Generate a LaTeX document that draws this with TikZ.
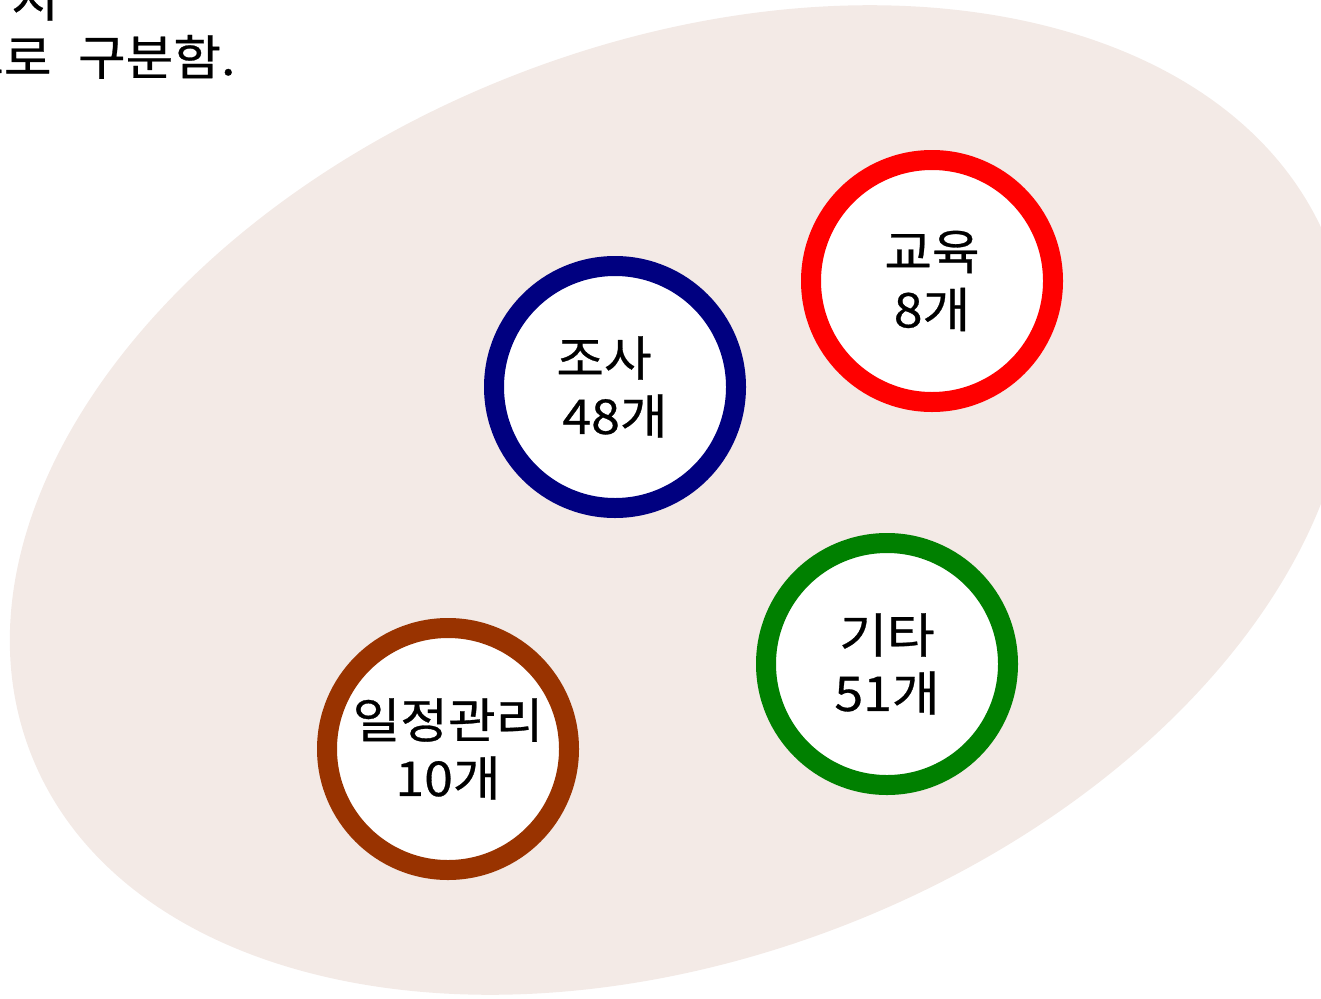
\documentclass[tikz,border=0pt]{standalone}
\usepackage{fontspec}
\newfontfamily\kr[FakeBold=0.6,FakeStretch=1.08]{Noto Sans CJK KR}
\definecolor{bgfill}{HTML}{F3EAE6}
\definecolor{cnavy}{HTML}{000080}
\definecolor{cred}{HTML}{FF0000}
\definecolor{cgreen}{HTML}{008000}
\definecolor{cbrown}{HTML}{993300}
\begin{document}
\begin{tikzpicture}[x=1pt,y=-1pt,
  ring/.style={circle, draw, line width=20pt, fill=white, minimum size=242pt,
    inner sep=0pt, align=center, font=\kr\fontsize{48}{58}\selectfont},
  toptext/.style={anchor=base west, inner sep=0pt, font=\kr\fontsize{48}{58}\selectfont}]
\useasboundingbox (0,0) rectangle (1321,998);
\fill[bgfill, rotate around={21.35:(680,500)}] (680,500) ellipse [x radius=697, y radius=456];
\node[toptext] (t1) at (11,17) {지};
\node[toptext] (t2) at (-44,75) {으로\hspace{0.55em}구분함.};
\node[ring, draw=cnavy] (josa) at (615,387) {조사\hspace*{22pt}\\48개};
\node[ring, draw=cred] (edu) at (932,281) {교육\\8개};
\node[ring, draw=cgreen] (etc) at (887,664) {기타\\51개};
\node[ring, draw=cbrown] (sched) at (448,749) {일정관리\\10개};
\end{tikzpicture}
\end{document}
